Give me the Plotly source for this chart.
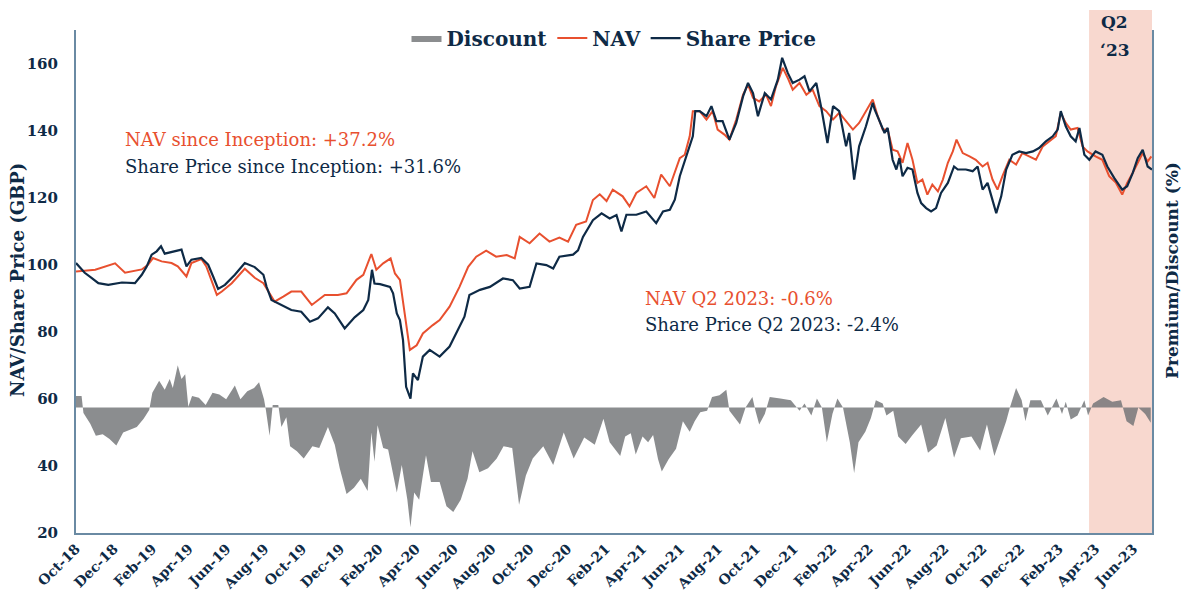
import plotly.graph_objects as go

# ---------------- data ----------------
nav_dates = [
    "2018-10-01", "2018-11-01", "2018-12-03", "2018-12-19", "2019-01-15", "2019-01-25", "2019-02-02",
    "2019-02-16", "2019-03-04", "2019-03-14", "2019-03-28", "2019-04-05", "2019-04-21", "2019-04-29",
    "2019-05-07", "2019-05-16", "2019-05-24", "2019-06-09", "2019-06-30", "2019-07-16", "2019-07-30",
    "2019-08-07", "2019-08-17", "2019-08-31", "2019-09-13", "2019-09-29", "2019-10-16", "2019-11-06",
    "2019-11-27", "2019-12-11", "2019-12-27", "2020-01-07", "2020-01-20", "2020-01-28", "2020-02-08",
    "2020-02-20", "2020-02-27", "2020-03-06", "2020-03-14", "2020-03-22", "2020-04-02", "2020-04-12",
    "2020-04-28", "2020-05-09", "2020-05-25", "2020-06-10", "2020-06-24", "2020-07-07", "2020-07-23",
    "2020-08-08", "2020-08-25", "2020-09-07", "2020-09-15", "2020-10-01", "2020-10-17", "2020-11-02",
    "2020-11-18", "2020-12-02", "2020-12-15", "2020-12-31", "2021-01-11", "2021-01-22", "2021-02-02",
    "2021-02-12", "2021-02-28", "2021-03-11", "2021-03-22", "2021-04-07", "2021-04-20", "2021-05-01",
    "2021-05-15", "2021-05-23", "2021-05-31", "2021-06-08", "2021-06-16", "2021-06-21", "2021-07-02",
    "2021-07-13", "2021-07-23", "2021-07-31", "2021-08-11", "2021-08-19", "2021-08-30", "2021-09-10",
    "2021-09-18", "2021-09-26", "2021-10-06", "2021-10-17", "2021-10-25", "2021-11-02", "2021-11-13",
    "2021-11-21", "2021-11-29", "2021-12-10", "2021-12-21", "2021-12-31", "2022-01-11", "2022-01-22",
    "2022-02-02", "2022-02-12", "2022-02-23", "2022-03-06", "2022-03-16", "2022-03-27", "2022-04-04",
    "2022-04-07", "2022-04-15", "2022-04-23", "2022-05-01", "2022-05-09", "2022-05-17", "2022-05-25",
    "2022-06-02", "2022-06-10", "2022-06-18", "2022-06-26", "2022-07-04", "2022-07-12", "2022-07-21",
    "2022-07-29", "2022-08-06", "2022-08-14", "2022-08-20", "2022-08-30", "2022-09-10", "2022-09-20",
    "2022-10-01", "2022-10-09", "2022-10-17", "2022-10-25", "2022-11-02", "2022-11-13", "2022-11-24",
    "2022-12-04", "2022-12-15", "2022-12-26", "2023-01-06", "2023-01-16", "2023-01-27", "2023-02-04",
    "2023-02-12", "2023-02-20", "2023-03-03", "2023-03-11", "2023-03-19", "2023-04-01", "2023-04-12",
    "2023-04-23", "2023-05-04", "2023-05-14", "2023-05-22", "2023-05-31", "2023-06-08", "2023-06-16",
    "2023-06-24", "2023-06-30",
]
nav_values = [
    98.0, 98.5, 100.4, 97.6, 98.6, 100.0, 102.0,
    101.0, 100.5, 99.5, 96.5, 100.5, 101.7, 99.5,
    95.5, 91.0, 92.0, 94.5, 98.8, 96.1, 94.5,
    92.0, 89.0, 90.5, 92.0, 92.0, 88.0, 91.0,
    91.0, 91.5, 95.5, 97.0, 103.2, 98.5, 100.4,
    101.9, 97.4, 95.5, 84.5, 74.6, 76.0, 79.5,
    82.0, 83.5, 87.5, 93.4, 99.4, 102.4, 104.2,
    102.4, 102.9, 101.9, 108.3, 106.4, 109.3, 106.9,
    108.1, 106.9, 111.9, 112.9, 119.3, 121.0, 119.0,
    122.4, 120.4, 117.4, 121.4, 123.4, 119.9, 126.9,
    123.4, 127.4, 131.8, 132.8, 138.3, 145.8, 145.8,
    143.3, 145.8, 140.3, 138.8, 137.3, 143.3, 150.7,
    153.7, 149.8, 148.7, 150.7, 147.3, 153.2, 158.7,
    155.7, 152.2, 154.2, 150.7, 152.2, 147.3, 145.8,
    143.3, 145.3, 142.8, 140.3, 142.3, 145.8, 148.7,
    149.3, 144.3, 140.3, 140.3, 134.3, 133.8, 130.4,
    136.3, 131.3, 124.4, 125.4, 120.9, 123.9, 121.9,
    125.4, 130.4, 133.8, 137.3, 133.3, 132.3, 131.3,
    129.3, 130.4, 125.4, 122.4, 126.4, 131.3, 129.9,
    133.3, 132.3, 131.3, 135.3, 136.8, 138.3, 145.3,
    142.3, 140.3, 140.8, 135.3, 133.8, 132.3, 131.3,
    126.4, 124.4, 120.9, 124.4, 127.4, 130.4, 133.3,
    130.8, 132.3,
]

sp_dates = [
    "2018-10-01", "2018-10-15", "2018-10-26", "2018-11-06", "2018-11-22", "2018-12-14", "2019-01-04",
    "2019-01-15", "2019-01-23", "2019-01-31", "2019-02-08", "2019-02-15", "2019-02-21", "2019-03-09",
    "2019-03-20", "2019-03-28", "2019-04-05", "2019-04-21", "2019-05-02", "2019-05-10", "2019-05-18",
    "2019-05-29", "2019-06-14", "2019-06-30", "2019-07-16", "2019-07-30", "2019-08-04", "2019-08-12",
    "2019-08-28", "2019-09-13", "2019-09-29", "2019-10-13", "2019-10-26", "2019-11-11", "2019-11-22",
    "2019-12-08", "2019-12-24", "2020-01-07", "2020-01-15", "2020-01-21", "2020-01-25", "2020-02-03",
    "2020-02-19", "2020-02-24", "2020-03-01", "2020-03-06", "2020-03-11", "2020-03-16", "2020-03-23",
    "2020-03-27", "2020-04-04", "2020-04-12", "2020-04-23", "2020-05-09", "2020-05-25", "2020-06-05",
    "2020-06-18", "2020-06-26", "2020-07-13", "2020-07-29", "2020-08-19", "2020-09-04", "2020-09-15",
    "2020-10-01", "2020-10-12", "2020-10-28", "2020-11-08", "2020-11-18", "2020-12-10", "2020-12-18",
    "2020-12-26", "2021-01-11", "2021-01-25", "2021-02-07", "2021-02-18", "2021-02-26", "2021-03-06",
    "2021-03-22", "2021-04-07", "2021-04-23", "2021-05-04", "2021-05-15", "2021-05-23", "2021-05-31",
    "2021-06-08", "2021-06-16", "2021-06-21", "2021-06-25", "2021-07-02", "2021-07-13", "2021-07-21",
    "2021-07-29", "2021-08-08", "2021-08-19", "2021-08-30", "2021-09-10", "2021-09-18", "2021-09-26",
    "2021-10-04", "2021-10-15", "2021-10-25", "2021-11-05", "2021-11-12", "2021-11-21", "2021-11-29",
    "2021-12-10", "2021-12-18", "2021-12-26", "2022-01-06", "2022-01-14", "2022-01-24", "2022-02-02",
    "2022-02-12", "2022-02-23", "2022-02-28", "2022-03-08", "2022-03-16", "2022-03-27", "2022-04-07",
    "2022-04-10", "2022-04-18", "2022-04-26", "2022-05-01", "2022-05-09", "2022-05-15", "2022-05-20",
    "2022-05-25", "2022-06-02", "2022-06-10", "2022-06-18", "2022-06-24", "2022-07-02", "2022-07-10",
    "2022-07-18", "2022-07-26", "2022-08-06", "2022-08-16", "2022-08-22", "2022-09-04", "2022-09-15",
    "2022-09-23", "2022-10-01", "2022-10-09", "2022-10-14", "2022-10-23", "2022-10-31", "2022-11-08",
    "2022-11-18", "2022-11-29", "2022-12-10", "2022-12-21", "2022-12-31", "2023-01-11", "2023-01-22",
    "2023-01-30", "2023-02-04", "2023-02-12", "2023-02-20", "2023-02-28", "2023-03-06", "2023-03-14",
    "2023-03-22", "2023-04-01", "2023-04-12", "2023-04-20", "2023-05-01", "2023-05-14", "2023-05-22",
    "2023-05-31", "2023-06-08", "2023-06-16", "2023-06-24", "2023-07-01",
]
sp_values = [
    100.5, 97.6, 96.1, 94.5, 94.0, 94.7, 94.5,
    97.0, 99.5, 103.0, 104.0, 105.5, 103.3, 104.0,
    104.5, 99.5, 101.5, 102.0, 100.0, 96.5, 92.8,
    94.0, 97.0, 100.5, 99.3, 97.0, 93.5, 89.5,
    88.0, 86.5, 86.0, 83.0, 84.0, 87.3, 85.5,
    81.0, 84.3, 86.5, 89.5, 98.5, 94.4, 94.2,
    93.4, 91.5, 85.5, 83.5, 77.5, 63.6, 60.1,
    67.6, 65.6, 72.6, 74.6, 72.6, 75.6, 79.5,
    84.5, 91.0, 92.5, 93.4, 95.9, 95.4, 92.9,
    93.4, 100.4, 99.9, 98.9, 102.4, 103.0, 104.3,
    108.3, 113.3, 115.3, 113.8, 114.8, 109.9, 114.9,
    114.9, 115.9, 112.4, 115.9, 116.4, 119.4, 126.4,
    130.8, 135.3, 138.3, 145.8, 145.8, 144.3, 147.3,
    142.8, 142.8, 137.3, 142.3, 150.2, 154.2, 151.2,
    144.3, 151.2, 149.3, 155.2, 161.7, 157.2, 154.2,
    155.2, 156.2, 151.7, 154.2, 146.8, 136.3, 147.3,
    145.8, 135.3, 139.3, 125.4, 135.3, 141.3, 148.3,
    146.3, 142.8, 139.3, 140.8, 131.3, 128.4, 131.8,
    126.4, 128.9, 128.4, 121.4, 118.4, 116.9, 115.9,
    116.9, 121.4, 124.4, 129.3, 128.4, 128.4, 127.9,
    129.3, 122.4, 124.4, 120.9, 115.4, 120.4, 128.4,
    132.8, 133.8, 133.3, 133.8, 134.8, 136.8, 138.3,
    140.3, 145.8, 141.3, 138.3, 136.8, 140.8, 132.8,
    131.3, 133.8, 132.8, 129.3, 125.9, 122.4, 123.4,
    127.4, 131.8, 134.3, 129.3, 128.4,
]

disc_dates = [
    "2018-10-01", "2018-10-10", "2018-10-13", "2018-10-24", "2018-11-02", "2018-11-13", "2018-11-24",
    "2018-12-05", "2018-12-16", "2018-12-27", "2019-01-07", "2019-01-18", "2019-01-27", "2019-02-01",
    "2019-02-12", "2019-02-21", "2019-03-01", "2019-03-06", "2019-03-14", "2019-03-20", "2019-03-26",
    "2019-03-31", "2019-04-06", "2019-04-17", "2019-04-28", "2019-05-09", "2019-05-20", "2019-05-31",
    "2019-06-14", "2019-06-23", "2019-07-04", "2019-07-15", "2019-07-23", "2019-07-31", "2019-08-03",
    "2019-08-09", "2019-08-14", "2019-08-23", "2019-08-28", "2019-09-05", "2019-09-11", "2019-09-22",
    "2019-10-03", "2019-10-17", "2019-10-28", "2019-11-11", "2019-11-22", "2019-11-30", "2019-12-11",
    "2019-12-23", "2020-01-03", "2020-01-14", "2020-01-20", "2020-01-25", "2020-01-30", "2020-02-08",
    "2020-02-16", "2020-03-01", "2020-03-09", "2020-03-18", "2020-03-23", "2020-03-29", "2020-04-06",
    "2020-04-17", "2020-04-25", "2020-05-09", "2020-05-20", "2020-05-31", "2020-06-12", "2020-06-23",
    "2020-07-01", "2020-07-12", "2020-07-26", "2020-08-09", "2020-08-20", "2020-09-03", "2020-09-14",
    "2020-09-25", "2020-10-06", "2020-10-23", "2020-11-08", "2020-11-25", "2020-12-11", "2020-12-28",
    "2021-01-14", "2021-01-28", "2021-02-07", "2021-02-24", "2021-03-04", "2021-03-13", "2021-03-21",
    "2021-04-01", "2021-04-10", "2021-04-18", "2021-04-26", "2021-05-02", "2021-05-13", "2021-05-25",
    "2021-06-05", "2021-06-16", "2021-06-24", "2021-07-03", "2021-07-14", "2021-07-22", "2021-08-03",
    "2021-08-14", "2021-08-19", "2021-08-28", "2021-09-05", "2021-09-14", "2021-09-25", "2021-09-30",
    "2021-10-06", "2021-10-15", "2021-10-23", "2021-11-09", "2021-11-26", "2021-12-10", "2021-12-18",
    "2021-12-29", "2022-01-07", "2022-01-15", "2022-01-23", "2022-02-01", "2022-02-09", "2022-02-18",
    "2022-03-01", "2022-03-08", "2022-03-15", "2022-03-26", "2022-04-04", "2022-04-12", "2022-04-23",
    "2022-04-29", "2022-05-10", "2022-05-18", "2022-05-30", "2022-06-10", "2022-06-24", "2022-07-05",
    "2022-07-19", "2022-08-02", "2022-08-16", "2022-08-27", "2022-09-13", "2022-09-27", "2022-10-08",
    "2022-10-20", "2022-10-31", "2022-11-08", "2022-11-14", "2022-11-24", "2022-12-03", "2022-12-09",
    "2022-12-17", "2023-01-03", "2023-01-14", "2023-01-28", "2023-02-06", "2023-02-12", "2023-02-20",
    "2023-03-03", "2023-03-14", "2023-03-20", "2023-03-28", "2023-04-14", "2023-04-28", "2023-05-12",
    "2023-05-21", "2023-06-01", "2023-06-09", "2023-06-20", "2023-06-29",
]
disc_values = [
    1.4, 1.4, -0.7, -2.0, -3.5, -3.3, -3.9,
    -4.7, -3.1, -2.7, -2.4, -1.4, -0.3, 1.8,
    3.3, 2.2, 3.5, 2.4, 5.2, 3.5, 4.1,
    0.1, 1.4, 1.2, 0.3, 1.8, 1.6, 1.0,
    2.7, 1.0, 2.0, 2.4, 3.1, 1.0, -0.3,
    -3.5, 0.3, 0.3, -2.4, -1.2, -4.8, -5.4,
    -6.3, -4.8, -5.0, -2.4, -4.6, -7.5, -10.7,
    -9.9, -8.8, -10.3, -3.1, -6.7, -2.2, -5.0,
    -5.2, -10.5, -7.1, -11.4, -14.8, -10.5, -11.4,
    -5.9, -9.2, -9.2, -12.2, -12.9, -11.4, -8.8,
    -5.4, -8.0, -7.5, -6.3, -4.8, -5.0, -12.0,
    -8.4, -6.3, -4.8, -7.1, -3.1, -6.3, -3.7,
    -4.6, -1.4, -4.3, -6.0, -3.6, -3.2, -5.8,
    -3.6, -4.3, -3.4, -6.4, -7.9, -6.4, -5.1,
    -1.7, -3.0, -1.7, -0.6, -0.4, 1.3, 1.5,
    2.2, -0.4, -1.3, -2.1, 0.0, 1.3, -0.4,
    -2.1, -0.8, 1.3, 1.1, 0.9, -0.4, 0.5,
    -1.0, 1.1, 0.0, -4.3, -0.8, 1.1, 0.0,
    -4.3, -8.1, -4.3, -3.0, -1.3, 0.9, 0.5,
    -1.0, -0.4, -3.6, -4.5, -3.4, -2.1, -5.6,
    -4.7, -1.3, -6.2, -3.8, -3.6, -5.3, -2.1,
    -6.0, -3.6, -1.7, 0.0, 2.4, 0.9, -1.7,
    0.9, 0.9, -1.0, 1.1, -0.8, 0.7, -1.5,
    -1.0, 0.9, -1.0, 0.5, 1.3, 0.7, 0.9,
    -1.7, -2.3, 0.0, -0.8, -1.9,
]

tick_dates = [
    "2018-10-01", "2018-12-01", "2019-02-01", "2019-04-01", "2019-06-01", "2019-08-01", "2019-10-01",
    "2019-12-01", "2020-02-01", "2020-04-01", "2020-06-01", "2020-08-01", "2020-10-01", "2020-12-01",
    "2021-02-01", "2021-04-01", "2021-06-01", "2021-08-01", "2021-10-01", "2021-12-01", "2022-02-01",
    "2022-04-01", "2022-06-01", "2022-08-01", "2022-10-01", "2022-12-01", "2023-02-01", "2023-04-01",
    "2023-06-01",
]
tick_labels = [
    "Oct-18", "Dec-18", "Feb-19", "Apr-19", "Jun-19", "Aug-19", "Oct-19",
    "Dec-19", "Feb-20", "Apr-20", "Jun-20", "Aug-20", "Oct-20", "Dec-20",
    "Feb-21", "Apr-21", "Jun-21", "Aug-21", "Oct-21", "Dec-21", "Feb-22",
    "Apr-22", "Jun-22", "Aug-22", "Oct-22", "Dec-22", "Feb-23", "Apr-23",
    "Jun-23",
]
y_ticks = [20, 40, 60, 80, 100, 120, 140, 160]

# ---------------- styling ----------------
FONT = "DejaVu Serif"
NAVY = "#0e2a46"
RED = "#e8502f"
AXIS = "#6a8aa3"

fig = go.Figure()

fig.add_trace(go.Scatter(
    x=disc_dates, y=disc_values, name="Discount", yaxis="y2",
    mode="lines", line=dict(width=0, color="#8b8d8f"),
    fill="tozeroy", fillcolor="rgba(110,112,115,0.8)",
))
fig.add_trace(go.Scatter(
    x=nav_dates, y=nav_values, name="NAV", mode="lines",
    line=dict(color=RED, width=2),
))
fig.add_trace(go.Scatter(
    x=sp_dates, y=sp_values, name="Share Price", mode="lines",
    line=dict(color=NAVY, width=2.2),
))

fig.add_shape(type="rect", xref="x domain", yref="paper",
              x0=0.9415, x1=1.0, y0=0.0, y1=1.04,
              fillcolor="#f8d8cf", line=dict(width=0), layer="below")

ann = []
def txt(t, x, y, color, size, bold=False, xanchor="left", angle=0):
    ann.append(dict(text=t, x=x, y=y, xref="paper", yref="paper", showarrow=False,
                    xanchor=xanchor, yanchor="middle", textangle=angle,
                    font=dict(family=FONT, size=size, color=color,
                              weight="bold" if bold else "normal")))

txt("NAV since Inception: +37.2%", 0.0437, 0.783, RED, 18)
txt("Share Price since Inception: +31.6%", 0.0437, 0.7296, NAVY, 18)
txt("NAV Q2 2023: -0.6%", 0.527, 0.467, RED, 18)
txt("Share Price Q2 2023: -2.4%", 0.527, 0.4155, NAVY, 18)
txt("Q2", 0.9656, 1.016, NAVY, 17, bold=True, xanchor="center")
txt("‘23", 0.9656, 0.960, NAVY, 17, bold=True, xanchor="center")
txt("NAV/Share Price (GBP)", -0.0539, 0.503, NAVY, 18, bold=True, xanchor="center", angle=-90)
txt("Premium/Discount (%)", 1.0185, 0.523, NAVY, 17, bold=True, xanchor="center", angle=-90)

fig.update_layout(
    width=1183, height=595,
    margin=dict(l=76, r=31, t=30, b=62, autoexpand=False),
    paper_bgcolor="white", plot_bgcolor="white",
    font=dict(family=FONT, color=NAVY),
    showlegend=True,
    legend=dict(orientation="h", x=0.5, xanchor="center", y=0.984, yanchor="middle",
                bgcolor="rgba(0,0,0,0)", font=dict(family=FONT, size=20, color=NAVY, weight="bold"),
                itemwidth=30, tracegroupgap=0),
    annotations=ann,
    xaxis=dict(type="date", range=["2018-10-01", "2023-07-01"],
               tickmode="array", tickvals=tick_dates, ticktext=tick_labels,
               tickangle=-45, tickfont=dict(family=FONT, size=14, color=NAVY, weight="bold"),
               showgrid=False, zeroline=False, showline=True, linecolor=AXIS, linewidth=2,
               ticks="", automargin=False),
    yaxis=dict(range=[20, 170], tickmode="array", tickvals=y_ticks,
               tickfont=dict(family=FONT, size=15, color=NAVY, weight="bold"),
               showgrid=False, zeroline=False, showline=True, linecolor=AXIS, linewidth=2,
               ticks="outside", ticklen=13, tickcolor="rgba(0,0,0,0)", automargin=False),
    yaxis2=dict(overlaying="y", side="right", range=[-15.5, 46.6],
                showticklabels=False, showgrid=False, zeroline=False,
                showline=True, linecolor=AXIS, linewidth=2, ticks="", automargin=False),
)

fig.write_html("out.html", config={"displayModeBar": False},
               post_script="document.body.style.margin='0';")
